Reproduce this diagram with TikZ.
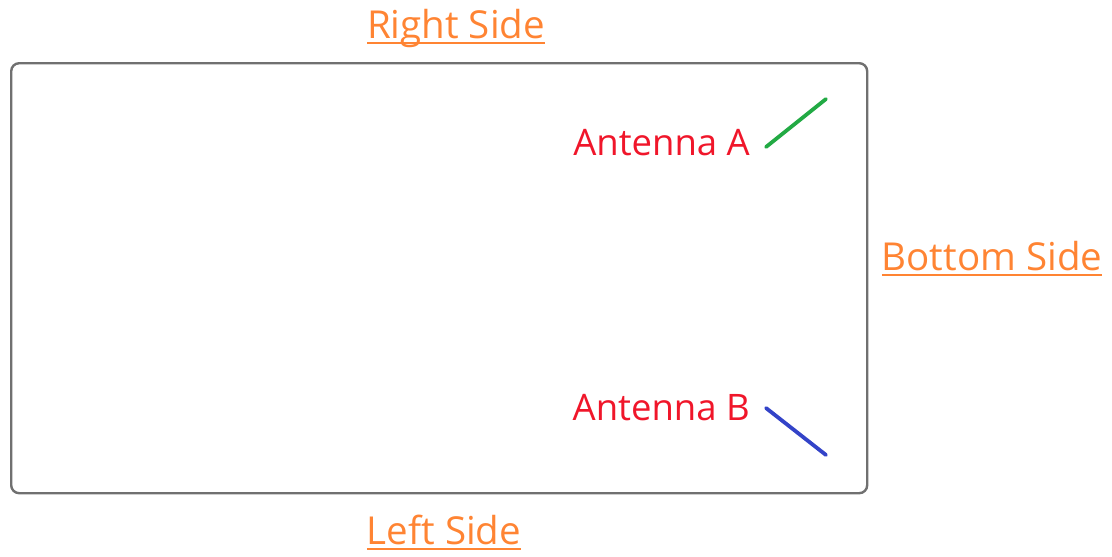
\documentclass[tikz,border=0pt]{standalone}
\usepackage{fontspec}
\setmainfont{Open Sans}
\definecolor{boxgray}{HTML}{707070}
\definecolor{labred}{HTML}{F0162A}
\definecolor{sideorange}{HTML}{FF8433}
\definecolor{antgreen}{HTML}{22AA44}
\definecolor{antblue}{HTML}{3343C8}
\newcommand\sideul[1]{\setbox0\hbox{#1}\rlap{\rule[-5.5pt]{\wd0}{2pt}}\box0}
\tikzset{
  sidelabel/.style={text=sideorange, font=\fontsize{38.5}{44}\selectfont, inner sep=0pt},
  antlabel/.style={text=labred, font=\fontsize{36.5}{42}\selectfont, inner sep=0pt, anchor=east},
  antline/.style={line width=3.8pt, line cap=round},
}
\begin{document}
\begin{tikzpicture}[x=1pt,y=-1pt]
\useasboundingbox (0,0) rectangle (1112,557);
\node[draw=boxgray, line width=2.4pt, rounded corners=8pt, minimum width=856pt, minimum height=430pt, anchor=north west, inner sep=0pt] (box) at (10,62) {};
\node[sidelabel] (right) at (456,28) {\sideul{Right Side}};
\node[sidelabel] (bottom) at (992,259) {\sideul{Bottom Side}};
\node[sidelabel] (left) at (444,533) {\sideul{Left Side}};
\node[antlabel] (la) at (750,143) {Antenna A};
\node[antlabel] (lb) at (750,408) {Antenna B};
\coordinate (a1) at (766,147);
\coordinate (a2) at (826,99);
\coordinate (b1) at (766,408);
\coordinate (b2) at (826,455);
\draw[antline, antgreen] (a1) -- (a2);
\draw[antline, antblue] (b1) -- (b2);
\end{tikzpicture}
\end{document}
